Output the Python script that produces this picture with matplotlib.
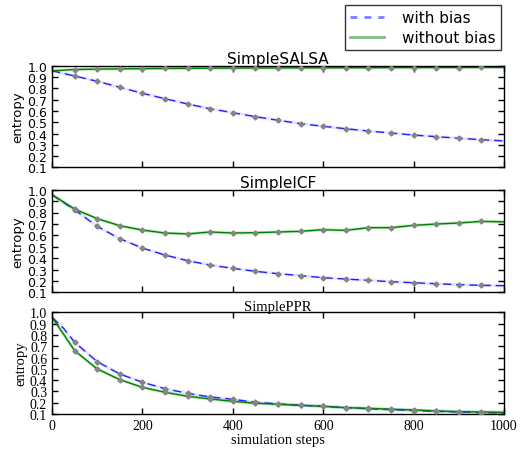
import matplotlib
matplotlib.use("Agg")
import matplotlib.pyplot as plt
from matplotlib.lines import Line2D
import numpy as np

# ---- data ----
steps_line = [0, 50, 100, 150, 200, 250, 300, 350, 400, 450, 500, 550, 600, 650,
              700, 750, 800, 850, 900, 950, 1000]
steps_pts = [50, 100, 150, 200, 250, 300, 350, 400, 450, 500, 550, 600, 650,
             700, 750, 800, 850, 900, 950]

salsa_bias = [0.955, 0.909, 0.862, 0.809, 0.756, 0.708, 0.661, 0.619, 0.584, 0.549,
              0.517, 0.487, 0.464, 0.442, 0.422, 0.404, 0.386, 0.372, 0.358, 0.345, 0.334]
salsa_nobias = [0.955, 0.966, 0.970, 0.972, 0.974, 0.976, 0.977, 0.978, 0.979, 0.980,
                0.980, 0.981, 0.981, 0.982, 0.982, 0.983, 0.983, 0.984, 0.984, 0.985, 0.985]

icf_bias = [0.956, 0.824, 0.678, 0.570, 0.488, 0.427, 0.377, 0.339, 0.310, 0.284,
            0.263, 0.246, 0.228, 0.216, 0.205, 0.193, 0.184, 0.175, 0.167, 0.161, 0.158]
icf_nobias = [0.956, 0.830, 0.746, 0.684, 0.646, 0.620, 0.612, 0.629, 0.620, 0.623,
              0.629, 0.635, 0.649, 0.643, 0.667, 0.667, 0.687, 0.699, 0.708, 0.722, 0.718]

ppr_steps_line = [0, 25] + steps_line[1:]
ppr_bias = [0.956, 0.861, 0.735, 0.563, 0.454, 0.381, 0.324, 0.283, 0.251, 0.230, 0.204,
            0.189, 0.177, 0.168, 0.156, 0.147, 0.139, 0.130, 0.124, 0.118, 0.112, 0.109]
ppr_nobias = [0.956, 0.810, 0.661, 0.499, 0.404, 0.336, 0.292, 0.257, 0.233, 0.212, 0.195,
              0.186, 0.177, 0.168, 0.156, 0.150, 0.142, 0.136, 0.127, 0.121, 0.118, 0.115]

titles = ["SimpleSALSA", "SimpleICF", "SimplePPR"]
yticks = [0.1, 0.2, 0.3, 0.4, 0.5, 0.6, 0.7, 0.8, 0.9, 1.0]
xticks = [0, 200, 400, 600, 800, 1000]

W, H = 522, 452
fig = plt.figure(figsize=(W / 100, H / 100), dpi=100)

boxes = [(66.7, 168.4), (190.7, 293.3), (313.3, 415.0)]
left, right = 52 / W, 504 / W

panels = [
    (steps_line, salsa_bias, salsa_nobias),
    (steps_line, icf_bias, icf_nobias),
    (ppr_steps_line, ppr_bias, ppr_nobias),
]

for i, ((top, bot), (xs, yb, yn)) in enumerate(zip(boxes, panels)):
    ax = fig.add_axes([left, 1 - bot / H, right - left, (bot - top) / H])
    serif = (i == 2)
    fam = ["Liberation Serif", "DejaVu Serif"] if serif else ["DejaVu Sans"]
    tick_fs = 10 if serif else 9

    # translucent bands behind
    ax.plot(xs, yb, color="#0000ff", lw=2.2, alpha=0.10, zorder=1)
    ax.plot(xs, yn, color="#00a000", lw=2.2, alpha=0.25, zorder=1)
    ax.plot(xs, yb, color="#2020ff", lw=1.0, ls=(0, (6, 3.5)), zorder=2)
    ax.plot(xs, yn, color="#008000", lw=1.0, zorder=2)

    # gray sample markers with small error bars
    pb = [yb[xs.index(s)] for s in steps_pts]
    pn = [yn[xs.index(s)] for s in steps_pts]
    for pv in (pb, pn):
        ax.errorbar(steps_pts, pv, yerr=0.008, fmt="D", ms=2.6, color="#858585",
                    ecolor="#858585", elinewidth=1.4, capsize=0, zorder=3)

    ax.set_xlim(0, 1000)
    ax.set_ylim(0.1, 1.0)
    ax.set_yticks(yticks)
    ax.set_xticks(xticks)
    ax.tick_params(direction="in", top=True, right=True, length=4, width=1)
    for sp in ax.spines.values():
        sp.set_linewidth(1.0)
    ax.set_yticklabels([f"{v:.1f}" for v in yticks], fontsize=tick_fs, family=fam)
    if i < 2:
        ax.set_xticklabels([])
    else:
        ax.set_xticklabels([str(v) for v in xticks], fontsize=tick_fs, family=fam)
        ax.set_xlabel("simulation steps", fontsize=10.5, family=fam, labelpad=1)
    ax.set_ylabel("entropy", fontsize=9.5 if not serif else 10.5, family=fam, labelpad=2)
    ax.set_title(titles[i], fontsize=11 if not serif else 10.5, family=fam, pad=2)

handles = [
    Line2D([], [], color="#0000ff", alpha=0.5, lw=2, ls=(0, (2.5, 2.5))),
    Line2D([], [], color="#008000", alpha=0.5, lw=2),
]
leg = fig.legend(handles, ["with bias", "without bias"], loc="upper right",
                 bbox_to_anchor=(501 / W, 1 - 6 / H), borderaxespad=0,
                 fontsize=11, fancybox=False, frameon=True, handlelength=2.2,
                 borderpad=0.35, labelspacing=0.3, handletextpad=1.2)
leg.get_frame().set_edgecolor("black")
leg.get_frame().set_linewidth(1.0)

fig.savefig("out.png", dpi=100)
